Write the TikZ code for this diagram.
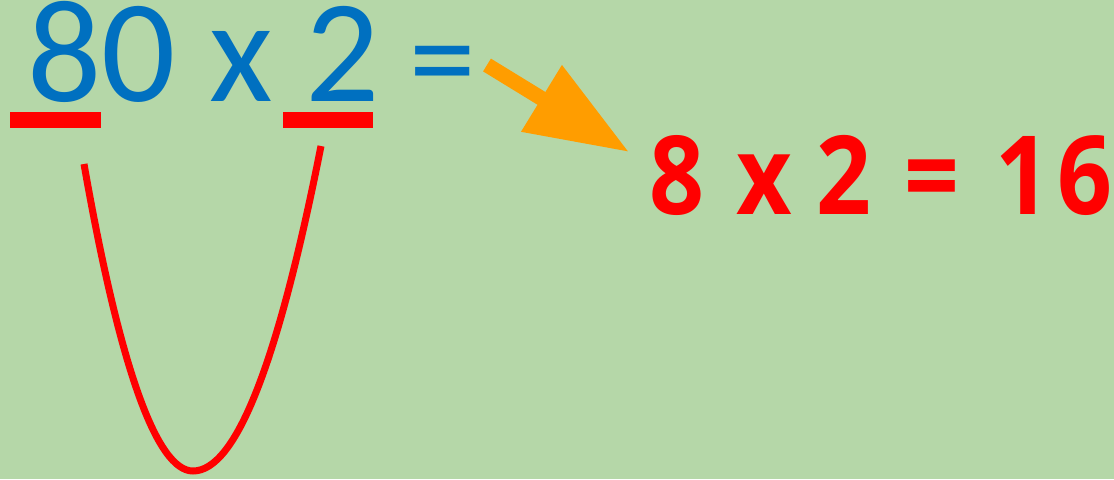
\documentclass[tikz,border=0pt]{standalone}
\usepackage{fontspec}
\usepackage{tikz}
\usetikzlibrary{arrows.meta,positioning,calc}
\newfontfamily\calib{Carlito}
\newfontfamily\opensb{Open Sans}[BoldFont={* Bold}, BoldFeatures={FakeStretch=0.88}]
\definecolor{bggreen}{HTML}{B5D7A8}
\definecolor{sumblue}{HTML}{0070C0}
\definecolor{markred}{HTML}{FF0000}
\definecolor{arrorange}{HTML}{FF9D00}

\begin{document}
\begin{tikzpicture}[
        x=0.75pt, y=-0.75pt,
        sumtext/.style={inner sep=0, text=sumblue, text height=68pt, font=\calib\fontsize{110}{110}\selectfont},
        restext/.style={inner sep=0, text=markred, font=\opensb\bfseries\fontsize{82}{82}\selectfont},
        uline/.style={fill=markred},
        bracecurve/.style={draw=markred, line width=5.25pt},
        bigarrow/.style={-{Triangle[length=77pt, width=55.5pt]}, draw=arrorange, fill=arrorange, line width=11.25pt},
    ]
        % background
        \fill[bggreen] (0,0) rectangle (1114,479);
        \useasboundingbox (0,0) rectangle (1114,479);

        % the sum and its result
        \node[sumtext, anchor=base west] (sum) at (27,101) {80 x 2};
        \node[sumtext, font=\calib\fontsize{100}{100}\selectfont, anchor=base west] (eq) at (409,103) {=};
        \node[restext, anchor=base west] (result) at (649,214) {8\hspace{0.3em}x\hspace{0.22em}2\hspace{0.3em}=\hspace{0.33em}1\hspace{0.07em}6};

        % underlines below the 8 and the 2
        \fill[uline] (10,112) rectangle (101,128);
        \fill[uline] (283,112) rectangle (373,128);

        % curve joining the two marked digits
        \coordinate (curveL) at (84,164);
        \coordinate (curveB) at (193,471);
        \coordinate (curveR) at (321,146);
        \draw[bracecurve] (curveL) .. controls (120,369) and (157,471) .. (curveB)
            .. controls (236,471) and (278,363) .. (curveR);

        % arrow from the sum to the result
        \coordinate (arrtail) at (487,65);
        \coordinate (arrtip) at (629,152);
        \draw[bigarrow] (arrtail) -- (arrtip);

    \end{tikzpicture}
\end{document}
